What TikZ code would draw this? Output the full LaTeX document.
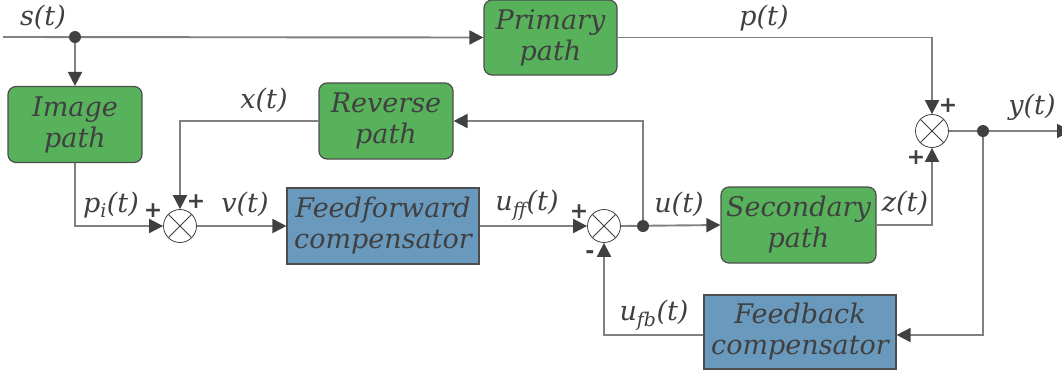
\documentclass[tikz,border=0pt]{standalone}
\usepackage{fontspec}
\setmainfont{DejaVu Serif}
\newfontfamily\signfont{DejaVu Sans}
\usetikzlibrary{arrows.meta, calc, positioning}
\definecolor{pathg}{HTML}{58B25B}
\definecolor{compb}{HTML}{6A99BE}
\definecolor{edgeg}{HTML}{808080}
\definecolor{inkg}{HTML}{404040}
\definecolor{rimg}{HTML}{4D4D4D}

\begin{document}
\begin{tikzpicture}[x=1pt, y=-1pt,
            font=\fontsize{27}{31}\selectfont\itshape, text=inkg,
            plant/.style={draw=rimg, line width=1.2pt, fill=pathg, rounded corners=8pt, align=center, inner sep=0pt, minimum height=76pt},
            comp/.style={draw=rimg, line width=1.2pt, fill=compb, align=center, inner sep=0pt, minimum height=76pt},
            summer/.style={circle, draw=inkg, line width=0.8pt, fill=white, minimum size=33pt, inner sep=0pt,
                path picture={\draw[inkg, line width=0.8pt] (path picture bounding box.north west) -- (path picture bounding box.south east)
                    (path picture bounding box.north east) -- (path picture bounding box.south west);}},
            junction/.style={circle, fill=inkg, minimum size=12pt, inner sep=0pt},
            sign/.style={font=\signfont\bfseries\fontsize{22}{22}\selectfont, inner sep=0pt},
            wire/.style={edgeg, line width=1.9pt},
            feed/.style={wire, -{Triangle[length=14pt, width=14pt, color=inkg]}}]
        \useasboundingbox (0,0) rectangle (1062,376);
        % blocks
        \node[plant, minimum width=134pt] (img) at (75,124.5) {Image\\path};
        \node[plant, minimum width=133pt, minimum height=75pt] (prim) at (550.5,37.5) {Primary\\path};
        \node[plant, minimum width=134pt] (rev) at (386,121) {Reverse\\path};
        \node[comp, minimum width=192pt] (ff) at (383,226) {Feedforward\\compensator};
        \node[plant, minimum width=155pt] (sec) at (798.5,225) {Secondary\\path};
        \node[comp, minimum width=192pt, minimum height=74pt] (fb) at (800,332) {Feedback\\compensator};
        \node[summer] (sum1) at (180,226) {};
        \node[summer] (sum2) at (604,226) {};
        \node[summer] (sum3) at (932,131) {};
        \coordinate (in) at (3,37);
        \coordinate (out) at (1071,131);
        \coordinate (js) at (75,37);
        \coordinate (ju) at (643,226);
        \coordinate (jy) at (983,131);
        % connectors
        \draw[feed] (in) -- (prim.west);
        \draw[feed] (js) -- (img.north);
        \draw[feed] (img.south) |- (sum1.west);
        \draw[feed] (rev.west) -| (sum1.north);
        \draw[feed] (sum1.east) -- (ff.west);
        \draw[feed] (ff.east) -- (sum2.west);
        \draw[feed] (sum2.east) -- (sec.west);
        \draw[feed] (ju) |- (rev.east);
        \draw[feed] (prim.east) -| (sum3.north);
        \draw[feed] (sec.east) -| (sum3.south);
        \draw[feed] (sum3.east) -- (out);
        \draw[feed] (jy) |- ($(fb.east)+(0,3)$);
        \draw[feed] ($(fb.west)+(0,3)$) -| (sum2.south);
        \node[junction] (dots) at (js) {};
        \node[junction] (dotu) at (ju) {};
        \node[junction] (doty) at (jy) {};
        % signals
        \node (lbs) at (43,17) {s(t)};
        \node (lbp) at (764,18) {p(t)};
        \node (lby) at (1032,107) {y(t)};
        \node (lbx) at (264,100) {x(t)};
        \node (lbpi) at (111,205) {p\textsubscript{i}(t)};
        \node (lbv) at (245,204) {v(t)};
        \node (lbuff) at (527,205) {u\textsubscript{ff}(t)};
        \node (lbu) at (679,204) {u(t)};
        \node (lbz) at (905,203) {z(t)};
        \node (lbufb) at (654,315) {u\textsubscript{fb}(t)};
        % signs
        \node[sign] (sg1a) at (153,211) {+};
        \node[sign] (sg1b) at (196,202) {+};
        \node[sign] (sg2a) at (579,212) {+};
        \node[sign] (sg2b) at (590,255) {-};
        \node[sign] (sg3a) at (948,106) {+};
        \node[sign] (sg3b) at (916,158) {+};
    \end{tikzpicture}
\end{document}
